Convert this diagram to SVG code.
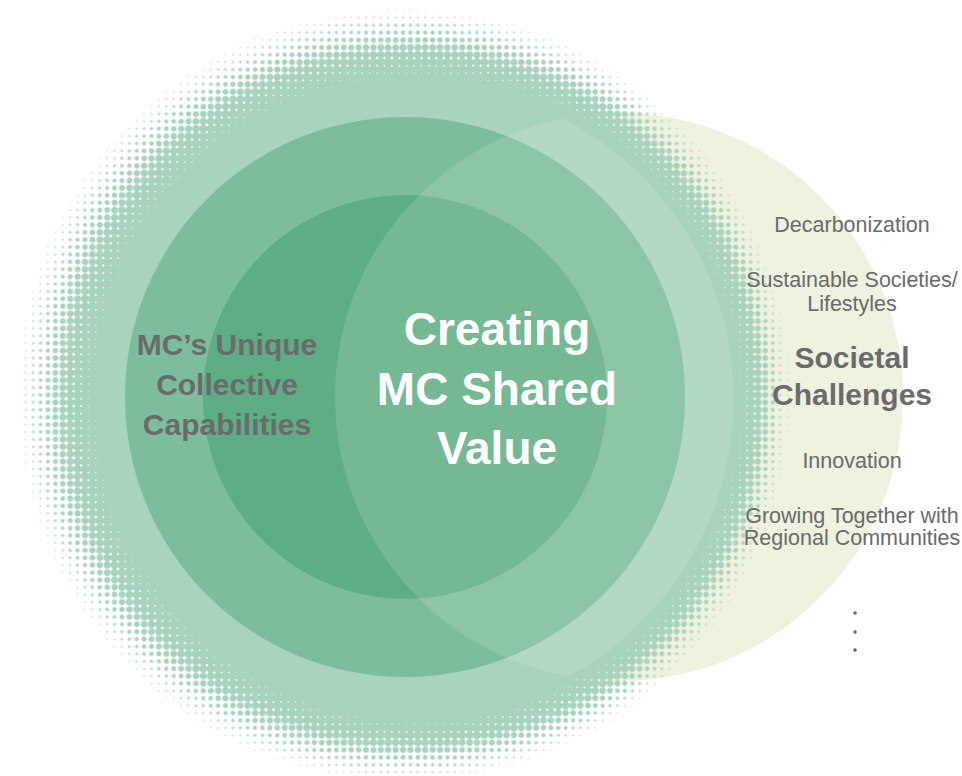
<svg xmlns="http://www.w3.org/2000/svg" width="962" height="776" viewBox="0 0 962 776">
<style>
.t{font-family:"Liberation Sans",Arial,sans-serif;text-anchor:middle}
.gray{fill:#6b6b6b}
.sm{font-size:21.5px}
.bd{font-weight:bold}
</style>
<defs>
<radialGradient id="cellGrad" cx="0.5" cy="0.5" r="0.7071">
<stop offset="0" stop-color="#ffffff"/>
<stop offset="1" stop-color="#333333"/>
</radialGradient>
<pattern id="cell" width="7.4" height="7.4" patternUnits="userSpaceOnUse" x="399.3" y="391.3">
<rect width="7.4" height="7.4" fill="url(#cellGrad)"/>
</pattern>
<radialGradient id="dens" gradientUnits="userSpaceOnUse" cx="403" cy="395" r="390" fx="483" fy="415">
<stop offset="0" stop-color="#000" stop-opacity="1"/>
<stop offset="0.806" stop-color="#000" stop-opacity="1"/>
<stop offset="0.83" stop-color="#000" stop-opacity="0.72"/>
<stop offset="0.889" stop-color="#000" stop-opacity="0.4605"/>
<stop offset="0.9037" stop-color="#000" stop-opacity="0.388"/>
<stop offset="0.9248" stop-color="#000" stop-opacity="0.315"/>
<stop offset="0.9458" stop-color="#000" stop-opacity="0.2657"/>
<stop offset="0.9669" stop-color="#000" stop-opacity="0.2297"/>
<stop offset="0.99" stop-color="#000" stop-opacity="0.2"/>
<stop offset="0.995" stop-color="#000" stop-opacity="0"/>
<stop offset="1" stop-color="#000" stop-opacity="0"/>
</radialGradient>
<mask id="densMask" maskUnits="userSpaceOnUse" x="0" y="0" width="962" height="776" style="mask-type:alpha">
<rect width="962" height="776" fill="url(#dens)"/>
</mask>
<filter id="halftone" filterUnits="userSpaceOnUse" x="0" y="0" width="962" height="776" color-interpolation-filters="sRGB">
<feColorMatrix in="SourceGraphic" type="luminanceToAlpha" result="u"/>
<feComposite in="u" in2="SourceAlpha" operator="arithmetic" k1="1" k2="0" k3="0" k4="0" result="uw"/>
<feComponentTransfer in="uw" result="th"><feFuncA type="linear" slope="12" intercept="-1.9"/></feComponentTransfer>
<feFlood flood-color="#a8d3bd" result="fl"/>
<feComposite in="fl" in2="th" operator="in"/>
</filter>
<clipPath id="solidClip"><circle cx="418.3" cy="398.8" r="315.5"/></clipPath>
</defs>

<g id="societal-challenges-circle">
<circle cx="619" cy="397" r="284" fill="#eef2df"/>
</g>

<g id="halftone-ring" filter="url(#halftone)">
<rect x="0" y="0" width="962" height="776" fill="url(#cell)" mask="url(#densMask)"/>
</g>

<g id="outer-circle">
<circle cx="418.3" cy="398.8" r="315.5" fill="#a8d3bd"/>
</g>
<g id="capabilities-circle">
<circle cx="405" cy="397" r="280" fill="#7cbe9b"/>
</g>
<g id="shared-value-circle">
<circle cx="405" cy="397" r="202" fill="#5eae85"/>
</g>
<g id="overlap-overlay" clip-path="url(#solidClip)">
<circle cx="619" cy="397" r="284" fill="#f4f6ea" opacity="0.15"/>
</g>

<g id="connectors"/>

<g id="label-capabilities" class="t bd gray" font-size="30">
<text x="227" y="355">MC’s Unique</text>
<text x="227" y="395">Collective</text>
<text x="227" y="435">Capabilities</text>
</g>

<g id="label-shared-value" class="t bd" font-size="46" fill="#ffffff">
<text x="497" y="345">Creating</text>
<text x="497" y="405">MC Shared</text>
<text x="497" y="464">Value</text>
</g>

<g id="label-challenges" class="t gray">
<text class="sm" x="852" y="232">Decarbonization</text>
<text class="sm" x="852" y="287">Sustainable Societies/</text>
<text class="sm" x="852" y="311">Lifestyles</text>
<text class="bd" font-size="30" x="852" y="368">Societal</text>
<text class="bd" font-size="30" x="852" y="405">Challenges</text>
<text class="sm" x="852" y="468">Innovation</text>
<text class="sm" x="852" y="523">Growing Together with</text>
<text class="sm" x="852" y="545">Regional Communities</text>
</g>

<g id="ellipsis" fill="#666666">
<circle cx="855" cy="613" r="1.8"/>
<circle cx="855" cy="632" r="1.8"/>
<circle cx="855" cy="650" r="1.8"/>
</g>
</svg>
